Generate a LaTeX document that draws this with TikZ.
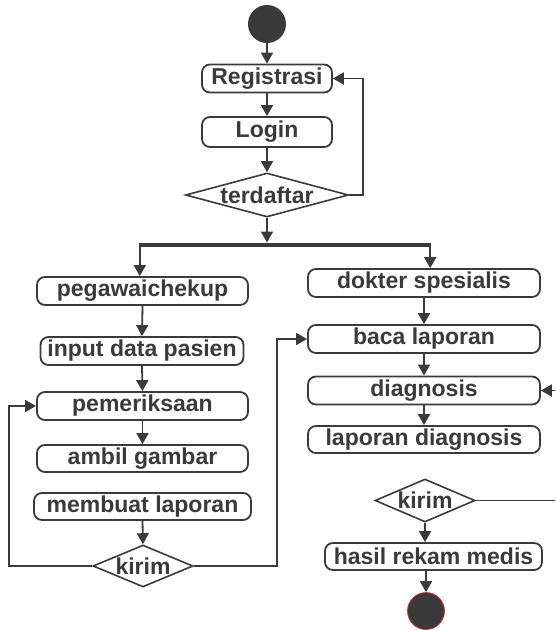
\documentclass[tikz,border=0pt]{standalone}
\usepackage{fontspec}
\usepackage{tikz}
\usetikzlibrary{arrows.meta,positioning,calc,shapes.geometric}
\newfontfamily\umlfont{Liberation Sans}
\definecolor{umlgray}{RGB}{58,58,58}
\definecolor{umlrim}{RGB}{220,40,50}
\newcommand{\actfont}{\umlfont\bfseries\fontsize{23}{26}\selectfont}
\tikzset{
  act/.style={draw=umlgray, line width=1.8pt, rounded corners=8pt, minimum height=28pt,
              inner sep=0pt, font=\actfont, text=umlgray},
  dec/.style={draw=umlgray, line width=1.6pt, diamond, inner sep=0pt},
  declbl/.style={font=\actfont, text=umlgray},
  flow/.style={-{Triangle[length=11pt,width=12pt]}, umlgray, line width=1.8pt},
  startdot/.style={circle, fill=umlgray, minimum size=38pt, inner sep=0pt},
  enddot/.style={circle, fill=umlgray, draw=umlrim, line width=0.7pt, minimum size=37pt, inner sep=0pt},
  forkbar/.style={fill=umlgray, minimum height=4.5pt, inner sep=0pt},
}
\begin{document}
\begin{tikzpicture}[x=1pt, y=-1pt]
    \useasboundingbox (0,0) rectangle (555,630);
    \clip (0,0) rectangle (555,630);
    % login part
    \node[startdot] (start) at (267,24) {};
    \node[act, minimum width=130pt] (reg) at (267,78.5) {Registrasi};
    \node[act, minimum width=130pt, minimum height=30pt] (login) at (267,132) {Login};
    \node[dec, minimum width=163pt, minimum height=44pt,
          label={[declbl]center:terdaftar}] (cekA) at (267,195) {};
    \node[forkbar, minimum width=292pt] (fork) at (285,245) {};
    \draw[flow] (start.south) -- (reg.north);
    \draw[flow] (reg.south) -- (login.north);
    \draw[flow] (login.south) -- (cekA.north);
    \draw[flow] (cekA.east) -| ([xshift=30pt]reg.east) -- (reg.east);
    \draw[flow] (cekA.south) -- (cekA.south |- fork.north);
    % pegawai
    \node[act, minimum width=211pt] (peg) at (142.5,291) {pegawaichekup};
    \node[act, minimum width=203pt] (inp) at (142,351) {input data pasien};
    \node[act, minimum width=211pt] (pem) at (142.5,406) {pemeriksaan};
    \node[act, minimum width=211pt, minimum height=27pt] (amb) at (142.5,458.5) {ambil gambar};
    \node[act, minimum width=217pt, minimum height=27pt] (mem) at (142.5,506.5) {membuat laporan};
    \node[dec, minimum width=100pt, minimum height=42pt,
          label={[declbl]center:kirim}] (kirA) at (143,566) {};
    \draw[flow] ([xshift=1pt]fork.south west) -- ([xshift=1pt]fork.south west |- peg.north);
    \draw[flow] (peg.south) -- (inp.north);
    \draw[flow] (inp.south) -- (pem.north);
    \draw[flow] (pem.south) -- (amb.north);
    \draw[flow] (mem.south) -- (kirA.north);
    \draw[flow] (kirA.west) -| ([xshift=-27pt]pem.west) -- (pem.west);
    % dokter
    \node[act, minimum width=232pt] (dok) at (424,283) {dokter spesialis};
    \node[act, minimum width=232pt] (baca) at (424,339) {baca laporan};
    \node[act, minimum width=232pt] (diag) at (424,390.5) {diagnosis};
    \node[act, minimum width=232pt, minimum height=27pt] (lapd) at (424,439.5) {laporan diagnosis};
    \node[dec, minimum width=100pt, minimum height=43pt,
          label={[declbl]center:kirim}] (kirB) at (425,500.5) {};
    \node[act, minimum width=217pt, minimum height=27pt] (hasil) at (433.5,556.5) {hasil rekam medis};
    \node[enddot] (stop) at (426,611) {};
    \draw[flow] ([xshift=-1pt]fork.south east) -- ([xshift=-1pt]fork.south east |- dok.north);
    \draw[flow] (dok.south) -- (baca.north);
    \draw[flow] (baca.south) -- (diag.north);
    \draw[flow] (diag.south) -- (lapd.north);
    \draw[flow] (kirA.east) -| ([xshift=-30pt]baca.west) -- (baca.west);
    \draw[flow] (kirB.east) -| ([xshift=30pt]diag.east) -- (diag.east);
    \draw[flow] (kirB.south) -- (kirB.south |- hasil.north);
    \draw[flow] (stop.north |- hasil.south) -- (stop.north);
\end{tikzpicture}
\end{document}
